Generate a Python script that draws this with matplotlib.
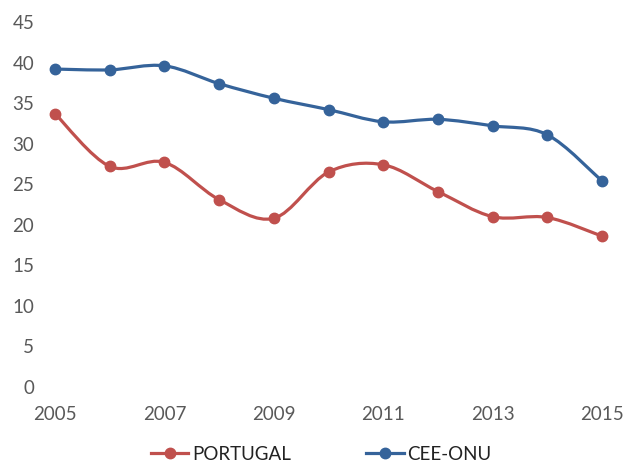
import matplotlib
matplotlib.use("Agg")
import matplotlib.pyplot as plt
import numpy as np
from matplotlib.path import Path
from matplotlib.patches import PathPatch
from matplotlib.lines import Line2D

years = [2005, 2006, 2007, 2008, 2009, 2010, 2011, 2012, 2013, 2014, 2015]
portugal = [33.7, 27.2, 27.7, 23.1, 20.8, 26.5, 27.4, 24.1, 21.0, 20.9, 18.6]
cee_onu = [39.2, 39.1, 39.6, 37.4, 35.6, 34.2, 32.7, 33.0, 32.2, 31.1, 25.4]
series_names = ["PORTUGAL", "CEE-ONU"]
xticks = [2005, 2007, 2009, 2011, 2013, 2015]
yticks = list(range(0, 50, 5))

RED = "#C0504D"
BLUE = "#35639A"
plt.rcParams['font.family'] = ['Lato', 'DejaVu Sans']

fig = plt.figure(figsize=(6.26, 4.63), dpi=100)
ax = fig.add_axes([55/626, 1-387/463, (602-55)/626, (387-22)/463])


def smooth_path(x, y):
    x = np.asarray(x, float); y = np.asarray(y, float)
    n = len(x)
    verts = [(x[0], y[0])]
    codes = [Path.MOVETO]
    for i in range(n - 1):
        p0 = np.array([x[max(i-1, 0)], y[max(i-1, 0)]])
        p1 = np.array([x[i], y[i]])
        p2 = np.array([x[i+1], y[i+1]])
        p3 = np.array([x[min(i+2, n-1)], y[min(i+2, n-1)]])
        c1 = p1 + (p2 - p0) / 6.0
        c2 = p2 - (p3 - p1) / 6.0
        verts += [tuple(c1), tuple(c2), tuple(p2)]
        codes += [Path.CURVE4] * 3
    return Path(verts, codes)


for vals, col in [(portugal, RED), (cee_onu, BLUE)]:
    patch = PathPatch(smooth_path(years, vals), facecolor='none', edgecolor=col,
                      lw=2.3, capstyle='round', joinstyle='round', clip_on=False)
    ax.add_patch(patch)
    ax.plot(years, vals, linestyle='none', marker='o', markersize=7.5,
            color=col, clip_on=False, zorder=3)

ax.set_xlim(2005, 2015)
ax.set_ylim(0, 45)
ax.set_xticks(xticks)
ax.set_yticks(yticks)
for s in ax.spines.values():
    s.set_visible(False)
ax.tick_params(length=0, labelsize=13.5, labelcolor="#595959")
ax.tick_params(axis='y', pad=15)
ax.tick_params(axis='x', pad=14)

handles = [Line2D([], [], color=RED, lw=2.3, marker='o', markersize=7.5),
           Line2D([], [], color=BLUE, lw=2.3, marker='o', markersize=7.5)]
fig.legend(handles, series_names, loc='center', bbox_to_anchor=(0.513, 0.019),
           ncol=2, frameon=False, fontsize=13.5, handlelength=2.0,
           handletextpad=0.2, columnspacing=4.0, labelcolor="#222222",
           borderpad=0.2)

fig.savefig("out.png", dpi=100)
